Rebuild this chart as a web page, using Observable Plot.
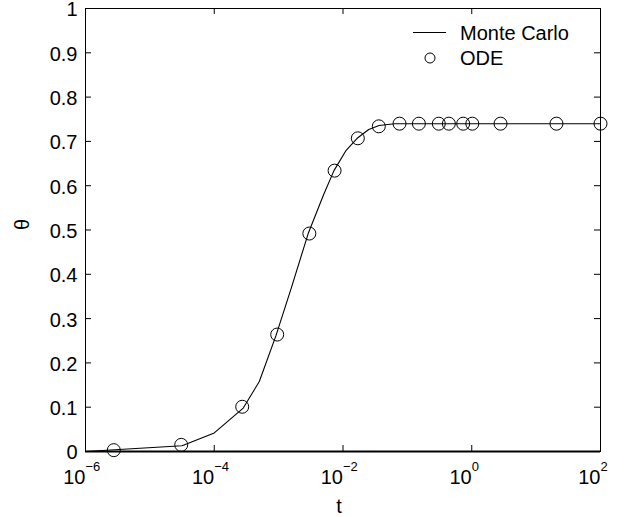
<!DOCTYPE html>
<html>
<head>
<meta charset="utf-8">
<script src="https://cdn.jsdelivr.net/npm/d3@7"></script>
<script src="https://cdn.jsdelivr.net/npm/@observablehq/plot@0.6"></script>
<style>
  html, body { margin: 0; padding: 0; background: #fff; }
</style>
</head>
<body>
<div id="chart"></div>
<script>
// Monte Carlo curve (t, theta)
const mcT = [1e-6, 3.16e-5, 1e-4, 2.82e-4, 5.01e-4, 9.12e-4, 1.58e-3, 2.88e-3, 5.01e-3, 7.24e-3, 1.12e-2, 1.66e-2, 2.51e-2, 3.63e-2, 6.31e-2, 100];
const mcTheta = [0.0, 0.013, 0.042, 0.098, 0.158, 0.262, 0.370, 0.492, 0.580, 0.634, 0.680, 0.707, 0.727, 0.736, 0.740, 0.740];

// ODE points (t, theta)
const odeT = [2.75e-6, 3.07e-5, 2.72e-4, 9.5e-4, 3.0e-3, 7.4e-3, 1.7e-2, 3.6e-2, 7.55e-2, 0.151, 0.308, 0.441, 0.736, 1.02, 2.80, 20.7, 100];
const odeTheta = [0.003, 0.015, 0.101, 0.264, 0.492, 0.634, 0.707, 0.734, 0.740, 0.740, 0.740, 0.740, 0.740, 0.740, 0.740, 0.740, 0.740];

// Axis ticks
const xTicks = [1e-6, 1e-4, 1e-2, 1, 1e2];
const xTickExp = ["\u22126", "\u22124", "\u22122", "0", "2"];
const yTicks = [0, 0.1, 0.2, 0.3, 0.4, 0.5, 0.6, 0.7, 0.8, 0.9, 1];
const yTickLabels = ["0", "0.1", "0.2", "0.3", "0.4", "0.5", "0.6", "0.7", "0.8", "0.9", "1"];

const legendLabels = ["Monte Carlo", "ODE"];
const xLabel = "t";
const yLabel = "\u03b8";

const mc = mcT.map((t, i) => ({t, theta: mcTheta[i]}));
const ode = odeT.map((t, i) => ({t, theta: odeTheta[i]}));
const xt = xTicks.map((v, i) => ({v, e: xTickExp[i]}));

const W = 643, H = 517;
const mL = 85, mR = 43, mT = 8, mB = 66;
const fw = W - mL - mR, fh = H - mT - mB;
const FONT = "'Liberation Sans', Arial, Helvetica, sans-serif";

const legend = () => {
  const g = d3.create("svg:g").attr("font-family", FONT).attr("font-size", 20).attr("text-anchor", "start");
  g.append("line").attr("x1", 413).attr("x2", 446).attr("y1", 32.5).attr("y2", 32.5)
    .attr("stroke", "black").attr("stroke-width", 1);
  g.append("text").attr("x", 460).attr("y", 40).attr("fill", "black").text(legendLabels[0]);
  g.append("circle").attr("cx", 430).attr("cy", 58).attr("r", 5)
    .attr("fill", "none").attr("stroke", "black").attr("stroke-width", 1);
  g.append("text").attr("x", 460).attr("y", 65).attr("fill", "black").text(legendLabels[1]);
  return g.node();
};

const chart = Plot.plot({
  width: W,
  height: H,
  marginLeft: mL,
  marginRight: mR,
  marginTop: mT,
  marginBottom: mB,
  style: {fontFamily: FONT, fontSize: "20px", background: "white", color: "black", overflow: "visible"},
  x: {type: "log", domain: [1e-6, 1e2], axis: null},
  y: {domain: [0, 1], axis: null},
  marks: [
    // inward ticks
    Plot.tickX(xTicks, {x: d => d, insetTop: fh - 6, stroke: "black"}),
    Plot.tickX(xTicks, {x: d => d, insetBottom: fh - 6, stroke: "black"}),
    Plot.tickY(yTicks, {y: d => d, insetRight: fw - 6, stroke: "black"}),
    Plot.tickY(yTicks, {y: d => d, insetLeft: fw - 6, stroke: "black"}),
    // data
    Plot.line(mc, {x: "t", y: "theta", stroke: "black", strokeWidth: 1.1}),
    Plot.dot(ode, {x: "t", y: "theta", r: 6.5, stroke: "black", fill: "none", strokeWidth: 1}),
    // frame
    Plot.frame({stroke: "black", strokeWidth: 1}),
    Plot.ruleY([0], {stroke: "black", strokeWidth: 2}),
    // y tick labels
    Plot.text(yTicks, {y: d => d, text: (d, i) => yTickLabels[i], frameAnchor: "left", textAnchor: "end", dx: -8, dy: 1.5, fontSize: 20}),
    // x tick labels: base and exponent
    Plot.text(xt, {x: "v", text: () => "10", frameAnchor: "bottom", lineAnchor: "bottom", textAnchor: "end",
      dx: 0, dy: 32, fontSize: 20}),
    Plot.text(xt, {x: "v", text: "e", frameAnchor: "bottom", lineAnchor: "bottom", textAnchor: "start",
      dx: 0, dy: 19, fontSize: 13}),
    // axis labels
    Plot.text([xLabel], {text: d => d, frameAnchor: "bottom", lineAnchor: "bottom", dx: -4, dy: 61, fontSize: 20}),
    Plot.text([yLabel], {text: d => d, frameAnchor: "left", rotate: -90, dx: -63, fontSize: 20}),
    legend
  ]
});

document.getElementById("chart").appendChild(chart);
</script>
</body>
</html>
